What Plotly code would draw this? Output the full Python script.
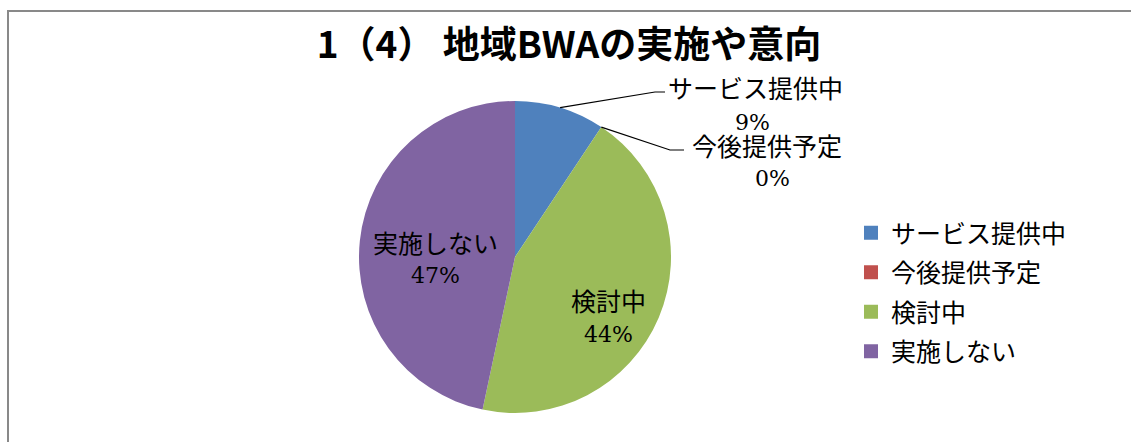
import math
import plotly.graph_objects as go

labels = ["サービス提供中", "今後提供予定", "検討中", "実施しない"]
counts = [14, 0, 66, 70]
colors = ["#4F81BD", "#C0504D", "#9BBB59", "#8064A2"]
title = "1（4） 地域BWAの実施や意向"

W, H = 1131, 442
cx, cy, r = 515, 257, 156

total = sum(counts)
pcts = [round(v / total * 100) for v in counts]


def px(x):
    return x / W


def py(y):
    return 1 - y / H


def edge(frac, rad=r):
    a = 2 * math.pi * frac
    return cx + rad * math.sin(a), cy - rad * math.cos(a)


cum = [sum(counts[:i]) / total for i in range(len(counts) + 1)]

fig = go.Figure(go.Pie(
    labels=labels, values=counts, sort=False, direction="clockwise", rotation=0,
    marker=dict(colors=colors, line=dict(width=0)),
    textinfo="none", hoverinfo="label+percent", showlegend=False,
    domain=dict(x=[px(cx - r), px(cx + r)], y=[py(cy + r), py(cy - r)]),
))

# legend entries (one per category, so the gap between them can be set)
for lab, col in zip(labels, colors):
    fig.add_trace(go.Scatter(x=[None], y=[None], mode="markers", name=lab, legendgroup=lab,
                             marker=dict(symbol="square", size=14, color=col)))

jp = "Noto Sans CJK JP"
num = "DejaVu Serif"

# label text positions (pixels): name, percent
label_pos = [
    ((755, 87), (753, 122)),
    ((767, 145), (772, 178)),
    ((608, 300), (608, 334)),
    ((435, 242), (435, 275)),
]
annotations = []
for lab, p, (npos, ppos) in zip(labels, pcts, label_pos):
    annotations.append(dict(x=px(npos[0]), y=py(npos[1]), xref="paper", yref="paper",
                            xanchor="center", yanchor="middle",
                            text=lab, showarrow=False, font=dict(family=jp, size=25, color="black")))
    annotations.append(dict(x=px(ppos[0]), y=py(ppos[1]), xref="paper", yref="paper",
                            xanchor="center", yanchor="middle",
                            text=f"{p}%", showarrow=False, font=dict(family=num, size=22, color="black")))

# leader lines for the outside labels
p1 = edge((cum[0] + cum[1]) / 2)
p2 = edge((cum[1] + cum[2]) / 2)
leaders = [
    [p1, (655, 92), (665, 92)],
    [p2, (670, 150), (684, 150)],
]
shapes = []
for pts in leaders:
    path = "M" + " L".join(f"{px(x)},{py(y)}" for x, y in pts)
    shapes.append(dict(type="path", path=path, xref="paper", yref="paper",
                       line=dict(color="black", width=1.2)))

# chart frame
shapes.append(dict(type="rect", xref="paper", yref="paper",
                   x0=px(8), x1=1.05, y0=-0.05, y1=py(11),
                   line=dict(color="#898989", width=2)))

fig.update_layout(
    width=W, height=H,
    margin=dict(l=0, r=0, t=0, b=0),
    paper_bgcolor="white",
    plot_bgcolor="white",
    xaxis=dict(visible=False),
    yaxis=dict(visible=False),
    title=dict(text=title, x=px(569), xanchor="center", y=py(45), yanchor="middle",
               font=dict(family=jp, size=37, color="black", weight="bold")),
    legend=dict(x=px(851), y=py(210), xanchor="left", yanchor="top",
                traceorder="grouped", tracegroupgap=4,
                font=dict(family=jp, size=25, color="black")),
    annotations=annotations,
    shapes=shapes,
)

fig.write_html("out.html", config={"displayModeBar": False},
               post_script="document.body.style.margin='0';document.body.style.overflow='hidden';")
